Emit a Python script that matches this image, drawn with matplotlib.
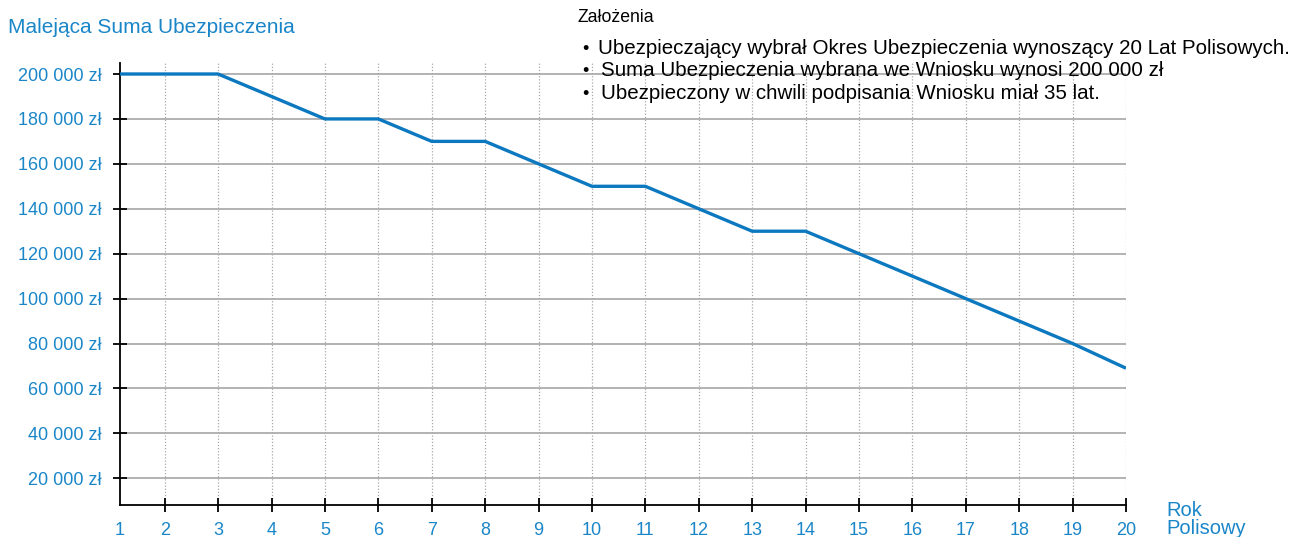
import matplotlib.pyplot as plt

plt.rcParams['font.family'] = ['Liberation Sans', 'DejaVu Sans']

years = list(range(1, 21))
sums = [200000, 200000, 200000, 190000, 180000, 180000, 170000, 170000, 160000, 150000,
        150000, 140000, 130000, 130000, 120000, 110000, 100000, 90000, 80000, 69000]
y_ticks = list(range(20000, 200001, 20000))
y_labels = [f"{v // 1000} 000 zł" for v in y_ticks]
notes = [
    "Ubezpieczający wybrał Okres Ubezpieczenia wynoszący 20 Lat Polisowych.",
    "Suma Ubezpieczenia wybrana we Wniosku wynosi 200 000 zł",
    "Ubezpieczony w chwili podpisania Wniosku miał 35 lat.",
]

blue = '#1a86c8'
line_blue = '#0b78c0'
x_left = 1.163

fig = plt.figure(figsize=(12.96, 5.37), dpi=100)
ax = fig.add_axes([120 / 1296, 32 / 537, 1006 / 1296, 442 / 537])

ax.plot(years, sums, color=line_blue, lw=2.4, zorder=3, solid_capstyle='butt')
ax.set_xlim(x_left, 20)
ax.set_ylim(8100, 204900)

ax.set_yticks(y_ticks)
ax.set_yticklabels(y_labels)
ax.set_xticks([x_left] + years[1:])
ax.set_xticklabels([str(y) for y in years])

for v in y_ticks:
    ax.axhline(v, color='#a6a6a6', lw=1.2, zorder=1)
for x in years[1:]:
    ax.axvline(x, color='#a8a8a8', lw=0.9, ls=(0, (1, 1.5)), zorder=1)

ax.spines['top'].set_visible(False)
ax.spines['right'].set_visible(False)
ax.spines['left'].set_linewidth(1.3)
ax.spines['bottom'].set_linewidth(1.3)
ax.tick_params(axis='both', direction='inout', length=10, width=1.3, color='black',
               labelcolor=blue, labelsize=13)
ax.tick_params(axis='y', pad=8)
ax.tick_params(axis='x', pad=7)
ax.xaxis.get_major_ticks()[0].tick1line.set_visible(False)

fig.text(8 / 1296, 1 - 28 / 537, "Malejąca Suma Ubezpieczenia", color=blue, fontsize=15, va='center')
fig.text(1166 / 1296, 1 - 511 / 537, "Rok", color=blue, fontsize=14.5, va='center')
fig.text(1166 / 1296, 1 - 528 / 537, "Polisowy", color=blue, fontsize=14.5, va='center')

fig.text(578 / 1296, 1 - 18 / 537, "Założenia", color='black', fontsize=12.7, va='center')
for i, note in enumerate(notes):
    yy = 1 - (54 + 22.5 * i) / 537
    fig.text(582 / 1296, yy, "•", color='black', fontsize=13, va='baseline')
    fig.text((598 if i == 0 else 601) / 1296, yy, note, color='black', fontsize=14.8, va='baseline')

fig.savefig('out.png', dpi=100)
